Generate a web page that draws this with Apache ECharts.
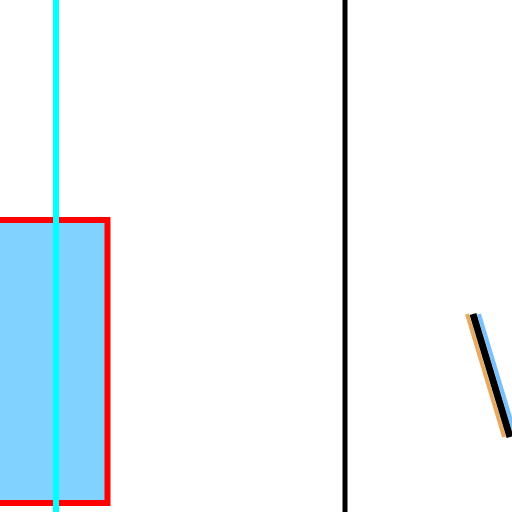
<!DOCTYPE html>
<html>
<head>
<meta charset="utf-8">
<style>
html,body{margin:0;padding:0;background:#fff;}
#chart{width:512px;height:512px;}
</style>
<script src="https://cdn.jsdelivr.net/npm/echarts@6/dist/echarts.min.js"></script>
</head>
<body>
<div id="chart"></div>
<script>
// Values in axis units (x: 0..512, y: 0..512 top-down)
const boxValues = [[-40, 107.5, 220, 503]]; // [xLow, xHigh, yLow, yHigh]
const cyanLine = [[56, 0], [56, 512]];
const blackLine = [[345, 0], [345, 512]];
const diagCenter = [[473, 314], [510, 437]];
const diagLeft = [[467, 314], [504, 437]];
const diagRight = [[479, 314], [516, 437]];

const chart = echarts.init(document.getElementById('chart'), null, {renderer: 'canvas'});
chart.setOption({
  animation: false,
  backgroundColor: '#ffffff',
  grid: {left: 0, right: 0, top: 0, bottom: 0, containLabel: false},
  xAxis: {type: 'value', min: 0, max: 512, show: false},
  yAxis: {type: 'value', min: 0, max: 512, inverse: true, show: false},
  series: [
    {
      type: 'custom',
      data: boxValues,
      renderItem: function (params, api) {
        const p0 = api.coord([api.value(0), api.value(2)]);
        const p1 = api.coord([api.value(1), api.value(3)]);
        return {
          type: 'rect',
          shape: {x: p0[0], y: p0[1], width: p1[0] - p0[0], height: p1[1] - p0[1]},
          style: {fill: '#82d2ff', stroke: '#ff0000', lineWidth: 6}
        };
      },
      silent: true
    },
    {type: 'line', data: cyanLine, symbol: 'none', lineStyle: {color: '#00ffff', width: 6}, silent: true},
    {type: 'line', data: blackLine, symbol: 'none', lineStyle: {color: '#000000', width: 5}, silent: true},
    {type: 'line', data: diagLeft, symbol: 'none', lineStyle: {color: '#e8aa60', width: 4}, silent: true},
    {type: 'line', data: diagRight, symbol: 'none', lineStyle: {color: '#78c0ff', width: 4}, silent: true},
    {type: 'line', data: diagCenter, symbol: 'none', lineStyle: {color: '#000000', width: 7}, silent: true}
  ]
});
</script>
</body>
</html>
